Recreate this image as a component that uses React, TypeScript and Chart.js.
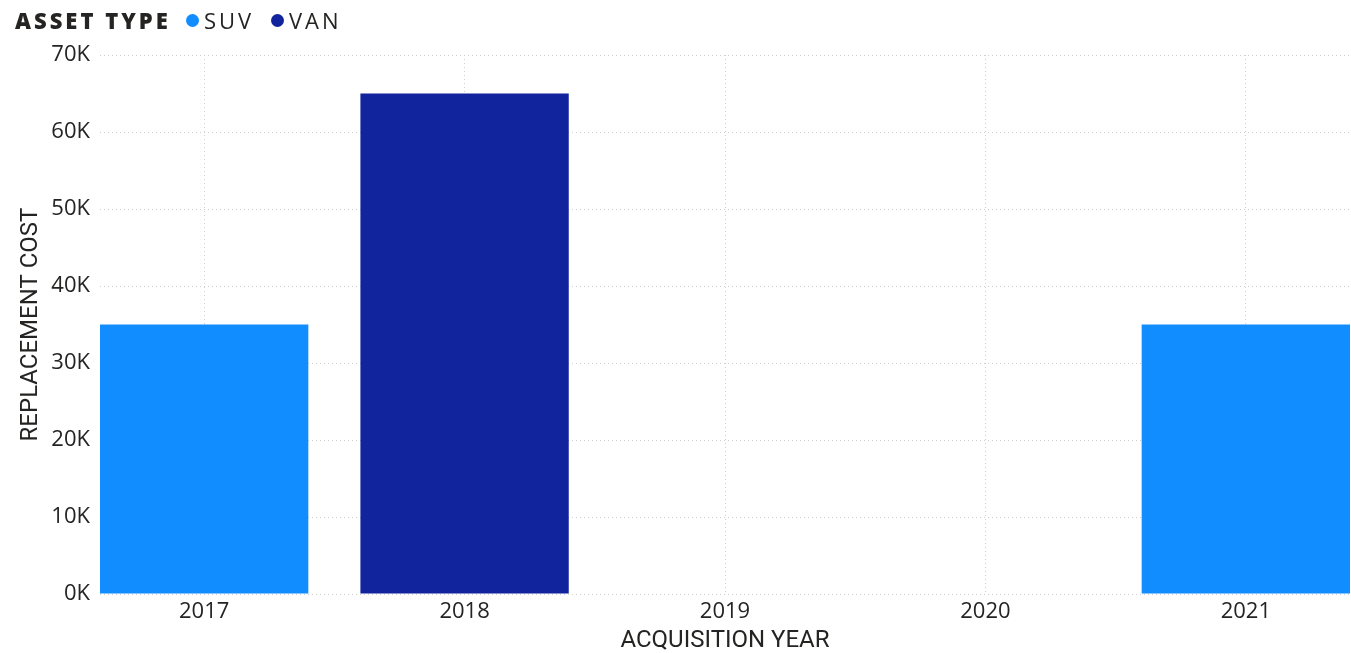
import React, { useEffect, useRef } from "react";
import { Chart, registerables } from "chart.js";

Chart.register(...registerables);

const years = ["2017", "2018", "2019", "2020", "2021"];
const suvCost: (number | null)[] = [35000, null, null, null, 35000];
const vanCost: (number | null)[] = [null, 65000, null, null, null];
const yTickValues = [0, 10000, 20000, 30000, 40000, 50000, 60000, 70000];

const SUV_COLOR = "#118DFF";
const VAN_COLOR = "#12239E";
const TEXT = "#252423";
const GRID = "#cfcfcf";

export default function App() {
  const ref = useRef<HTMLCanvasElement | null>(null);

  useEffect(() => {
    document.body.style.margin = "0";
    const canvas = ref.current;
    if (!canvas) return;
    const first = Number(years[0]);
    const last = Number(years[years.length - 1]);
    const chart = new Chart(canvas, {
      type: "bar",
      data: {
        labels: years,
        datasets: [
          {
            label: "SUV",
            data: suvCost,
            backgroundColor: SUV_COLOR,
            grouped: false,
            barPercentage: 0.8,
            categoryPercentage: 1,
          },
          {
            label: "VAN",
            data: vanCost,
            backgroundColor: VAN_COLOR,
            grouped: false,
            barPercentage: 0.8,
            categoryPercentage: 1,
          },
        ],
      },
      options: {
        animation: false,
        responsive: false,
        maintainAspectRatio: false,
        layout: { padding: { top: 55, right: 1, left: 0, bottom: 0 } },
        plugins: {
          legend: { display: false },
          tooltip: { enabled: false },
        },
        scales: {
          x: {
            type: "linear",
            bounds: "data",
            offset: false,
            min: first - 0.4,
            max: last + 0.4,
            afterFit: (s: any) => {
              s.height = 59;
            },
            afterBuildTicks: (s: any) => {
              s.ticks = years.map((y) => ({ value: Number(y) }));
            },
            grid: { color: GRID, drawTicks: false, lineWidth: 1, offset: false },
            border: { display: false, dash: [1, 3] },
            ticks: {
              autoSkip: false,
              maxRotation: 0,
              padding: 5,
              color: TEXT,
              font: { family: "'Open Sans'", size: 22 },
              callback: (v: any) => String(v),
            },
            title: {
              display: true,
              text: "ACQUISITION YEAR",
              color: TEXT,
              font: { family: "Roboto", size: 24, lineHeight: 1 },
              padding: { top: 0, bottom: 0 },
            },
          },
          y: {
            min: yTickValues[0],
            max: yTickValues[yTickValues.length - 1],
            afterFit: (s: any) => {
              s.width = 100;
            },
            afterBuildTicks: (s: any) => {
              s.ticks = yTickValues.map((v) => ({ value: v }));
            },
            grid: { color: GRID, drawTicks: false, lineWidth: 1 },
            border: { display: false, dash: [1, 3] },
            ticks: {
              padding: 10,
              color: TEXT,
              font: { family: "'Open Sans'", size: 22 },
              callback: (v: any) => `${Number(v) / 1000}K`,
            },
            title: {
              display: true,
              text: "REPLACEMENT COST",
              color: TEXT,
              font: { family: "Roboto", size: 24, lineHeight: 1 },
              padding: { top: 19, bottom: 0 },
            },
          },
        },
      },
    } as any);
    return () => chart.destroy();
  }, []);

  const legendText = {
    position: "absolute" as const,
    top: 5,
    fontFamily: "'Open Sans'",
    fontSize: 22,
    lineHeight: "30px",
    color: TEXT,
    whiteSpace: "nowrap" as const,
  };
  const dot = (c: string, cx: number) => ({
    position: "absolute" as const,
    left: cx - 6.5,
    top: 13.5,
    width: 13,
    height: 13,
    borderRadius: "50%",
    background: c,
  });

  return (
    <div style={{ position: "relative", width: 1351, height: 653, background: "#fff" }}>
      <canvas ref={ref} width={1351} height={653} style={{ position: "absolute", left: 0, top: 0 }} />
      <span style={{ ...legendText, left: 15, fontWeight: 800, letterSpacing: "3px" }}>ASSET TYPE</span>
      <span style={dot(SUV_COLOR, 192)} />
      <span style={{ ...legendText, left: 204, letterSpacing: "3px" }}>SUV</span>
      <span style={dot(VAN_COLOR, 277)} />
      <span style={{ ...legendText, left: 289, letterSpacing: "3px" }}>VAN</span>
    </div>
  );
}
